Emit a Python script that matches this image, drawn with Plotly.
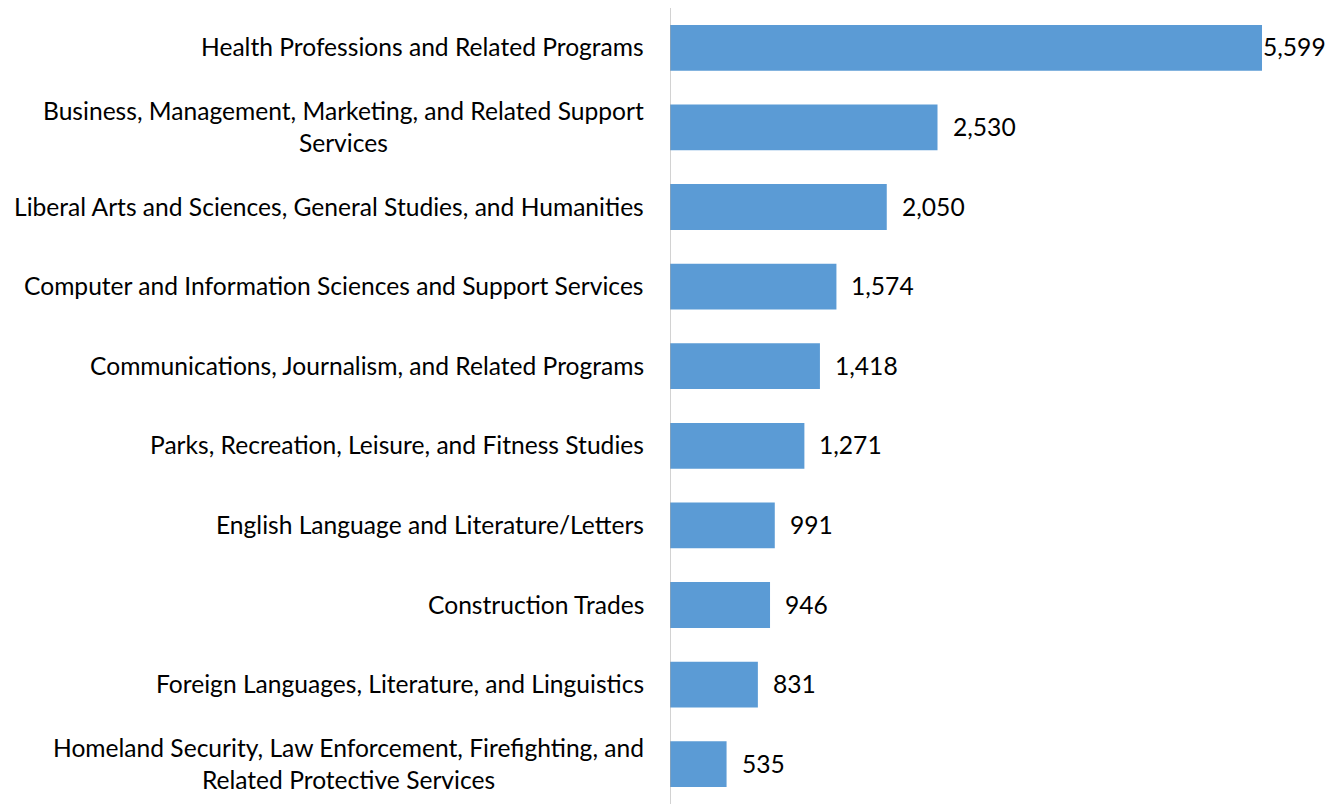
import plotly.graph_objects as go

categories = [
    "Health Professions and Related Programs",
    "Business, Management, Marketing, and Related Support<br>Services",
    "Liberal Arts and Sciences, General Studies, and Humanities",
    "Computer and Information Sciences and Support Services",
    "Communications, Journalism, and Related Programs",
    "Parks, Recreation, Leisure, and Fitness Studies",
    "English Language and Literature/Letters",
    "Construction Trades",
    "Foreign Languages, Literature, and Linguistics",
    "Homeland Security, Law Enforcement, Firefighting, and<br>Related Protective Services",
]
values = [5599, 2530, 2050, 1574, 1418, 1271, 991, 946, 831, 535]

FONT = "Lato"
FS = 24.6

fig = go.Figure()
fig.add_trace(go.Bar(
    y=list(range(len(categories))), x=values, orientation="h",
    marker=dict(color="#5b9bd5", line=dict(width=0)),
    width=0.575, hoverinfo="x",
))

ann = []
for i, (c, v) in enumerate(zip(categories, values)):
    ann.append(dict(x=0, xref="x", y=i, yref="y", text=c, showarrow=False,
                    xanchor="right", yanchor="middle", align="center", xshift=-24,
                    yshift=1,
                    font=dict(family=FONT, size=FS, color="#000")))
    ann.append(dict(x=v, xref="x", y=i, yref="y", text=f"{v:,}", showarrow=False,
                    xanchor="left", yanchor="middle", xshift=13 if i else -1,
                    yshift=1,
                    font=dict(family=FONT, size=FS, color="#000")))

fig.update_layout(
    width=1323, height=796,
    margin=dict(l=662, r=1, t=0, b=0),
    paper_bgcolor="white", plot_bgcolor="white",
    showlegend=False, annotations=ann, bargap=0.425,
    xaxis=dict(range=[0, 6242], visible=False, fixedrange=True),
    yaxis=dict(range=[9.5, -0.5], showticklabels=False, showgrid=False, zeroline=False,
               showline=False, ticks=""),
    shapes=[dict(type="line", xref="x", yref="paper", x0=0, x1=0, y0=0, y1=1,
                 line=dict(color="#a6a6a6", width=1))],
)
fig.write_html("out.html")
